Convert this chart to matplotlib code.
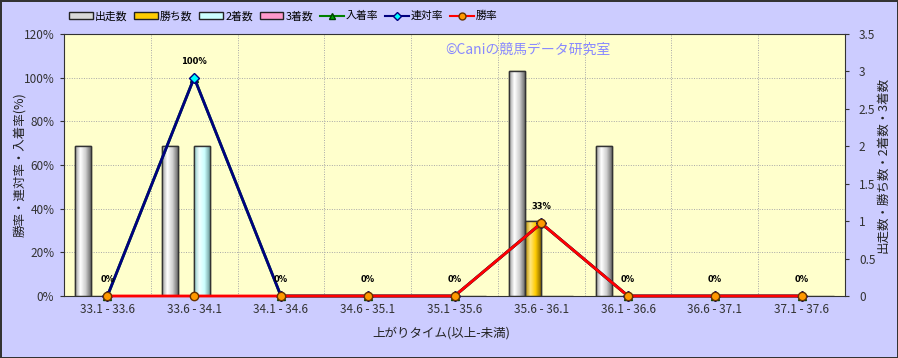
import numpy as np
import matplotlib
matplotlib.use("Agg")
from matplotlib import pyplot as plt
from matplotlib.colors import LinearSegmentedColormap
from matplotlib.patches import Rectangle
from matplotlib.lines import Line2D

plt.rcParams['font.family'] = ['Noto Sans CJK JP', 'DejaVu Sans']

# data
categories = ["33.1 - 33.6", "33.6 - 34.1", "34.1 - 34.6", "34.6 - 35.1", "35.1 - 35.6",
              "35.6 - 36.1", "36.1 - 36.6", "36.6 - 37.1", "37.1 - 37.6"]
runs = [2, 2, 0, 0, 0, 3, 2, 0, 0]
wins = [0, 0, 0, 0, 0, 1, 0, 0, 0]
seconds = [0, 2, 0, 0, 0, 0, 0, 0, 0]
thirds = [0, 0, 0, 0, 0, 0, 0, 0, 0]
place_rate = [0, 100, 0, 0, 0, 33.3, 0, 0, 0]
quinella_rate = [0, 100, 0, 0, 0, 33.3, 0, 0, 0]
win_rate = [0, 0, 0, 0, 0, 33.3, 0, 0, 0]

bar_names = ["出走数", "勝ち数", "2着数", "3着数"]
bar_colors = ["#d8d8d8", "#ffcc00", "#ccffff", "#ff99cc"]
bar_grads = [["#9a9a9a", "#ffffff", "#d0d0d0", "#6e6e6e"],
             ["#b08800", "#ffe680", "#ffcc00", "#8a6a00"],
             ["#90c8c8", "#f0ffff", "#ccffff", "#70a0a0"],
             ["#c06090", "#ffd0e8", "#ff99cc", "#a04070"]]

bg = "#ccccff"
fig = plt.figure(figsize=(8.98, 3.58), dpi=100, facecolor=bg)
fig.patch.set_edgecolor("#333333")
fig.patch.set_linewidth(2)

ax = fig.add_axes([64 / 898, 1 - 296 / 358, (845 - 64) / 898, (296 - 34) / 358])
ax.set_facecolor("#ffffcc")
ax2 = ax.twinx()

x = np.arange(len(categories))
w = 0.184
series = [runs, wins, seconds, thirds]
for k, vals in enumerate(series):
    bars = ax.bar(x + (k - 1.5) * w, vals, w, color=bar_colors[k], edgecolor="#333333",
                  linewidth=1, zorder=2)
    cmap = LinearSegmentedColormap.from_list("g%d" % k, bar_grads[k])
    grad = np.linspace(0, 1, 64).reshape(1, -1)
    for b in bars:
        if b.get_height() <= 0:
            continue
        im = ax.imshow(grad, cmap=cmap, aspect="auto", zorder=2.5,
                       extent=[b.get_x(), b.get_x() + b.get_width(), 0, b.get_height()])
        im.set_clip_path(b)
        ax.add_patch(Rectangle((b.get_x(), 0), b.get_width(), b.get_height(), fill=False,
                               edgecolor="#333333", linewidth=1, zorder=2.6))

ax.set_xlim(-0.5, len(categories) - 0.5)
ax.set_ylim(0, 3.5)
ax.yaxis.tick_right()
ax.set_yticks(np.arange(0, 3.51, 0.5))
ax.set_yticklabels(["%g" % v for v in np.arange(0, 3.51, 0.5)])
ax.set_yticks(np.arange(0, 121, 20) * 3.5 / 120, minor=True)
ax.set_xticks(x)
ax.set_xticklabels(categories)
ax.set_xticks(np.arange(0.5, len(categories) - 0.5, 1), minor=True)
ax.grid(which="minor", color="#a8a8a8", linestyle=(0, (1, 1.5)), linewidth=0.7, zorder=0)
ax.set_axisbelow(True)
ax.tick_params(axis="x", which="both", length=0, labelsize=8.5, colors="#333333", pad=5)
ax.tick_params(axis="y", which="minor", length=0)
ax.tick_params(axis="y", which="major", length=3, labelsize=8.5, colors="#333333", pad=7)
for s in ax.spines.values():
    s.set_color("#333333")

ax2.yaxis.tick_left()
ax2.set_ylim(0, 120)
ax2.set_yticks(np.arange(0, 121, 20))
ax2.set_yticklabels(["%d%%" % v for v in np.arange(0, 121, 20)])
ax2.tick_params(axis="y", length=3, labelsize=8.5, colors="#333333", pad=4)
for s in ax2.spines.values():
    s.set_visible(False)

ax2.plot(x, place_rate, color="#008000", linewidth=2, marker="^", markersize=6,
         markerfacecolor="#00aa00", markeredgecolor="#004000", zorder=3, clip_on=False)
ax2.plot(x, quinella_rate, color="#000080", linewidth=2, marker="D", markersize=5,
         markerfacecolor="#00ffff", markeredgecolor="#000080", zorder=4, clip_on=False)
ax2.plot(x, win_rate, color="#ff0000", linewidth=2, marker="o", markersize=6,
         markerfacecolor="#ff9900", markeredgecolor="#663300", zorder=5, clip_on=False)
for i, v in enumerate(quinella_rate):
    ax2.annotate("%d%%" % round(v), (i, v), xytext=(0, 12), textcoords="offset points",
                 ha="center", va="center", fontsize=6, fontweight="bold",
                 family=["DejaVu Sans"], zorder=6)

fig.text(445 / 898, 1 - 50 / 358, "©Caniの競馬データ研究室", color="#8888ff", fontsize=10,
         ha="left", va="center")
fig.text(20 / 898, 1 - 165 / 358, "勝率・連対率・入着率(%)", rotation=90, fontsize=9,
         ha="center", va="center", color="#222222")
fig.text(883 / 898, 1 - 165 / 358, "出走数・勝ち数・2着数・3着数", rotation=90, fontsize=9,
         ha="center", va="center", color="#222222")
fig.text(441 / 898, 1 - 333 / 358, "上がりタイム(以上-未満)", fontsize=9,
         ha="center", va="center", color="#222222")

handles = []
for k in range(4):
    handles.append(Rectangle((0, 0), 1, 1, facecolor=bar_colors[k], edgecolor="#222222"))
handles.append(Line2D([], [], color="#008000", linewidth=1.5, marker="^", markersize=5,
                      markerfacecolor="#00aa00", markeredgecolor="#004000"))
handles.append(Line2D([], [], color="#000080", linewidth=1.5, marker="D", markersize=4,
                      markerfacecolor="#00ffff", markeredgecolor="#000080"))
handles.append(Line2D([], [], color="#ff0000", linewidth=1.5, marker="o", markersize=5,
                      markerfacecolor="#ff9900", markeredgecolor="#663300"))
labels = bar_names + ["入着率", "連対率", "勝率"]
fig.legend(handles, labels, loc="center left", bbox_to_anchor=(69 / 898, 1 - 16 / 358),
           ncol=7, frameon=False, fontsize=7.8, handlelength=2.2, handleheight=0.5,
           handletextpad=0.2, columnspacing=0.6, borderaxespad=0, borderpad=0)

fig.savefig("out.png", dpi=100, facecolor=bg, edgecolor="#333333")
